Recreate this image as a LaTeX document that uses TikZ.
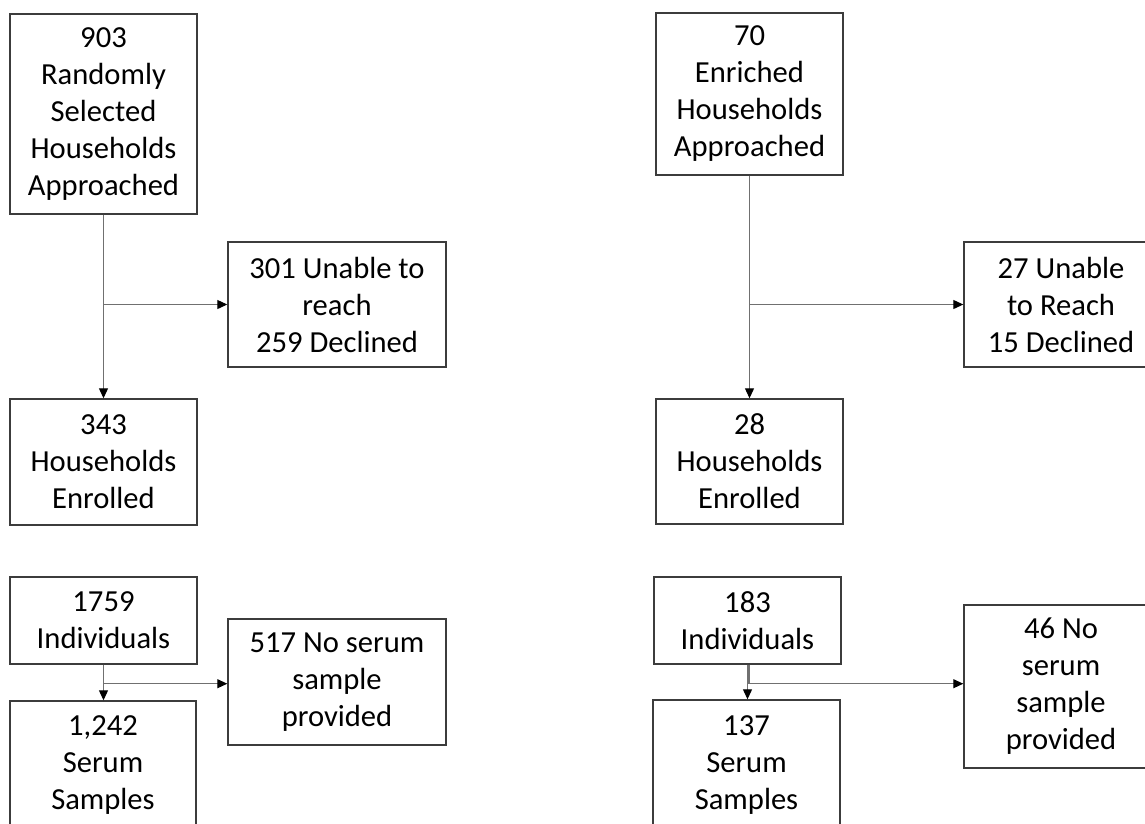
\documentclass[tikz,border=0pt]{standalone}
\usepackage{fontspec}
\setmainfont{Carlito}
\usetikzlibrary{arrows.meta}
\definecolor{boxline}{HTML}{3C3C3C}
\definecolor{connline}{HTML}{707070}
\tikzset{
  box/.style={draw=boxline, line width=1.4pt, rectangle, align=center, inner sep=0pt,
    font=\fontsize{30.6}{37}\selectfont, text=black},
  conn/.style={draw=connline, line width=1.1pt},
  arr/.style={conn, -{Triangle[length=10pt,width=9pt,color=black]}}
}
\begin{document}
\begin{tikzpicture}[x=1pt,y=-1pt]
\useasboundingbox (0,0) rectangle (1145,823);
\clip (0,0) rectangle (1145,823);
% left column
\node[box, minimum width=187pt, minimum height=200pt] (A) at (103.5,114) {903\\Randomly\\Selected\\Households\\Approached};
\node[box, minimum width=218pt, minimum height=125pt] (B) at (337,304.5) {301 Unable to\\reach\\259 Declined};
\node[box, minimum width=187pt, minimum height=126pt] (C) at (103.5,462) {343\\Households\\Enrolled};
\node[box, minimum width=187pt, minimum height=87pt] (D) at (103.5,620.5) {1759\\Individuals};
\node[box, minimum width=218pt, minimum height=126pt] (B2) at (337,682) {517 No serum\\sample\\provided};
\node[box, minimum width=186pt, minimum height=128pt] (E) at (103,765) {1,242\\Serum\\Samples};
% right column
\node[box, minimum width=187pt, minimum height=162pt] (F) at (749.5,94) {70\\Enriched\\Households\\Approached};
\node[box, minimum width=194pt, minimum height=125pt] (G) at (1061,304.5) {27 Unable\\to Reach\\15 Declined};
\node[box, minimum width=187pt, minimum height=125pt] (H) at (749.5,461.5) {28\\Households\\Enrolled};
\node[box, minimum width=187pt, minimum height=87pt] (I) at (747.5,620.5) {183\\Individuals};
\node[box, minimum width=187pt, minimum height=130pt] (J) at (746.5,765) {137\\Serum\\Samples};
\node[box, minimum width=194pt, minimum height=163pt] (K) at (1061,686.5) {46 No\\serum\\sample\\provided};
% left connectors
\draw[arr] (A.south) -- (C.north);
\coordinate (bA) at (A.south |- B.west);
\draw[arr] (bA) -- (B.west);
\draw[arr] (D.south) -- (D.south |- E.north);
\coordinate (bD) at ([yshift=-19pt]D.south);
\draw[arr] (bD) -- (bD -| B2.west);
% right connectors
\draw[arr] (F.south) -- (F.south |- H.north);
\coordinate (bF) at (F.south |- G.west);
\draw[arr] (bF) -- (G.west);
\coordinate (iS) at ([xshift=1.5pt]I.south);
\draw[conn] (iS) -- ++(0,19);
\draw[arr] (I.south) -- (I.south |- J.north);
\coordinate (bI) at ([yshift=-19pt]iS);
\draw[arr] (bI) -- (bI -| K.west);
\end{tikzpicture}
\end{document}
